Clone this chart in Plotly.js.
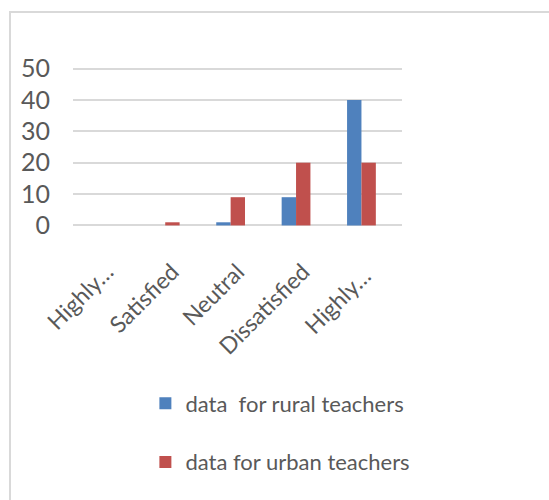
<!DOCTYPE html>
<html>
<head>
<meta charset="utf-8">
<script src="https://cdn.plot.ly/plotly-3.0.1.min.js"></script>
<style>
  html, body { margin: 0; padding: 0; background: #fff; overflow: hidden; }
  #wrap { position: relative; width: 549px; height: 500px; overflow: hidden; }
  #frame { position: absolute; left: 9px; top: 11px; width: 560px; height: 520px;
           border-left: 2px solid #d9d9d9; border-top: 2px solid #d9d9d9; }
  #chart { position: absolute; left: 0; top: 0; width: 549px; height: 500px; }
</style>
</head>
<body>
<div id="wrap">
<div id="frame"></div>
<div id="chart"></div>
</div>
<script>
const categories = ["Highly…", "Satisfied", "Neutral", "Dissatisfied", "Highly… "];
const ruralValues = [0, 0, 1, 9, 40];
const urbanValues = [0, 1, 9, 20, 20];
const yTicks = [0, 10, 20, 30, 40, 50];
const seriesNames = ["data&nbsp; for rural teachers", "data for urban teachers"];

const textColor = "#595959";
const fontFamily = "Lato, 'Open Sans', sans-serif";

const traces = [
  { type: "bar", x: categories, y: ruralValues, name: seriesNames[0],
    marker: { color: "#4F81BD" }, legendgroup: "a" },
  { type: "bar", x: categories, y: urbanValues, name: seriesNames[1],
    marker: { color: "#C0504D" }, legendgroup: "b" }
];

const layout = {
  width: 549, height: 500,
  paper_bgcolor: "rgba(0,0,0,0)", plot_bgcolor: "rgba(0,0,0,0)",
  margin: { l: 73, r: 147, t: 67, b: 273 },
  barmode: "group", bargap: 0.56, bargroupgap: 0,
  font: { family: fontFamily, color: textColor, size: 20 },
  xaxis: {
    type: "category", range: [-0.41, 4.62], tickangle: -45,
    showgrid: false, showline: false, zeroline: false, ticks: "",
    tickfont: { size: 23, color: textColor }, ticklabelshift: 7, ticklabelstandoff: 26
  },
  yaxis: {
    range: [-0.5, 50.5], tickvals: yTicks, ticktext: yTicks.map(String),
    showgrid: true, gridcolor: "#d9d9d9", gridwidth: 2,
    zeroline: true, zerolinecolor: "#d9d9d9", zerolinewidth: 2,
    showline: false, ticks: "", ticklabelstandoff: 22,
    tickfont: { size: 25, color: textColor }
  },
  showlegend: true,
  legend: {
    orientation: "v", x: 0.22, xanchor: "left", yref: "container", y: 0.235, yanchor: "top",
    font: { size: 22, color: textColor }, tracegroupgap: 27, bgcolor: "rgba(0,0,0,0)"
  }
};

Plotly.newPlot("chart", traces, layout, { displayModeBar: false, staticPlot: true });
</script>
</body>
</html>
